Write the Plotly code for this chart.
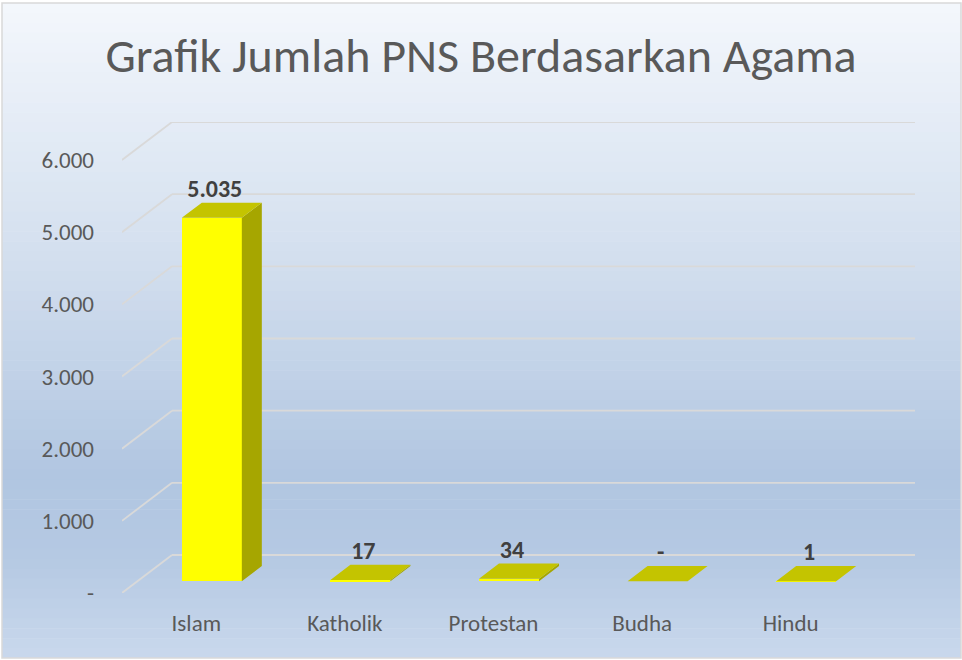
import plotly.graph_objects as go

# ---------------- data ----------------
categories = ["Islam", "Katholik", "Protestan", "Budha", "Hindu"]
values = [5035, 17, 34, 0, 1]
y_ticks = [0, 1000, 2000, 3000, 4000, 5000, 6000]
title_text = "Grafik Jumlah PNS Berdasarkan Agama"


def fmt(v):
    return "-" if v == 0 else f"{v:,}".replace(",", ".")


y_ticktext = [fmt(t) for t in y_ticks]
value_text = [fmt(v) for v in values]

# ---------------- geometry / style ----------------
W, H = 962, 660
L, R, T, B = 122, 915, 122, 593          # plot area in pixels
DX = 0.3365                              # depth of the "3D" floor, category units
DY = 526.5                               # depth of the "3D" floor, value units
F0, F1 = 0.31, 0.71                      # bar depth (front / back) as fraction
BAR_W = 0.404
FONT = "Calibri, Carlito, Lato, sans-serif"
GRID = "#D9D9D9"

xs = list(range(len(categories)))
fx = F0 * DX
fy = F0 * DY
ddx = (F1 - F0) * DX
ddy = (F1 - F0) * DY

fig = go.Figure()

# front faces (real bars)
fig.add_trace(go.Bar(
    x=[i + fx for i in xs], y=values, base=fy, width=BAR_W,
    marker=dict(color="#FFFF00", line=dict(width=0)),
    hoverinfo="skip", showlegend=False,
))

# top and side faces
tx, ty, sx, sy = [], [], [], []
for i, v in zip(xs, values):
    xl = i + fx - BAR_W / 2
    xr = i + fx + BAR_W / 2
    top = fy + v
    tx += [xl, xl + ddx, xr + ddx, xr, xl, None]
    ty += [top, top + ddy, top + ddy, top, top, None]
    if v > 0:
        sx += [xr, xr + ddx, xr + ddx, xr, xr, None]
        sy += [fy, fy + ddy, top + ddy, top, fy, None]

fig.add_trace(go.Scatter(x=sx, y=sy, fill="toself", fillcolor="#A6A600",
                         mode="lines", line=dict(width=0), hoverinfo="skip",
                         showlegend=False))
fig.add_trace(go.Scatter(x=tx, y=ty, fill="toself", fillcolor="#C4C400",
                         mode="lines", line=dict(width=0), hoverinfo="skip",
                         showlegend=False))

# data labels
fig.add_trace(go.Scatter(
    x=[i + fx + 0.02 for i in xs], y=[fy + v + ddy for v in values],
    mode="text", text=value_text, textposition="top center",
    textfont=dict(family=FONT, size=24, color="#404040", weight="bold"),
    cliponaxis=False, hoverinfo="skip", showlegend=False,
))

# ---------------- background gradient + border ----------------
def px2paper_x(px):
    return (px - L) / (R - L)


def px2paper_y(py):
    return (B - py) / (B - T)


stops = [(0.0, (244, 247, 252)), (0.15, (231, 238, 247)), (0.40, (210, 222, 238)),
         (0.72, (177, 198, 225)), (0.85, (181, 201, 227)), (1.0, (201, 216, 237))]


def col_at(t):
    for (a, ca), (b, cb) in zip(stops[:-1], stops[1:]):
        if a <= t <= b:
            k = (t - a) / (b - a) if b > a else 0
            c = [round(ca[j] + (cb[j] - ca[j]) * k) for j in range(3)]
            return f"rgb({c[0]},{c[1]},{c[2]})"
    return "rgb(201,216,237)"


shapes = []
top_px, bot_px = 3, 658
n = 66
step = (bot_px - top_px) / n
for k in range(n):
    y0 = top_px + k * step
    y1 = y0 + step + 0.6
    shapes.append(dict(type="rect", xref="paper", yref="paper", layer="below",
                       x0=px2paper_x(2), x1=px2paper_x(961),
                       y0=px2paper_y(min(y1, bot_px)), y1=px2paper_y(y0),
                       fillcolor=col_at((k + 0.5) / n), line=dict(width=0)))
shapes.append(dict(type="rect", xref="paper", yref="paper", layer="below",
                   x0=px2paper_x(2), x1=px2paper_x(961),
                   y0=px2paper_y(658), y1=px2paper_y(3),
                   fillcolor="rgba(0,0,0,0)", line=dict(color=GRID, width=1.5)))

# 3D gridlines (floor diagonal + back wall)
x_left = -0.5
x_right = len(categories) - 0.5 + DX
for t in y_ticks:
    shapes.append(dict(type="line", xref="x", yref="y", layer="below",
                       x0=x_left, y0=t, x1=x_left + DX, y1=t + DY,
                       line=dict(color=GRID, width=1.8)))
    shapes.append(dict(type="line", xref="x", yref="y", layer="below",
                       x0=x_left + DX, y0=t + DY, x1=x_right, y1=t + DY,
                       line=dict(color=GRID, width=1.8)))

fig.update_layout(
    width=W, height=H,
    margin=dict(l=L, r=W - R, t=T, b=H - B, pad=0),
    paper_bgcolor="white", plot_bgcolor="rgba(0,0,0,0)",
    shapes=shapes,
    title=dict(text=title_text, x=0.5, xanchor="center", xref="container",
               y=1 - 55 / H, yanchor="middle", yref="container",
               font=dict(family=FONT, size=48, color="#595959")),
    xaxis=dict(range=[x_left, x_right], tickvals=xs, ticktext=categories,
               showgrid=False, zeroline=False, showline=False, ticks="",
               ticklabelstandoff=14,
               tickfont=dict(family=FONT, size=23, color="#595959")),
    yaxis=dict(range=[0, y_ticks[-1] + DY], tickvals=y_ticks, ticktext=y_ticktext,
               showgrid=False, zeroline=False, showline=False, ticks="",
               ticklabelstandoff=27,
               tickfont=dict(family=FONT, size=23, color="#595959")),
    bargap=0,
)

fig.write_html("out.html",
               config={"displayModeBar": False},
               post_script="document.body.style.margin='0';document.body.style.padding='0';")
